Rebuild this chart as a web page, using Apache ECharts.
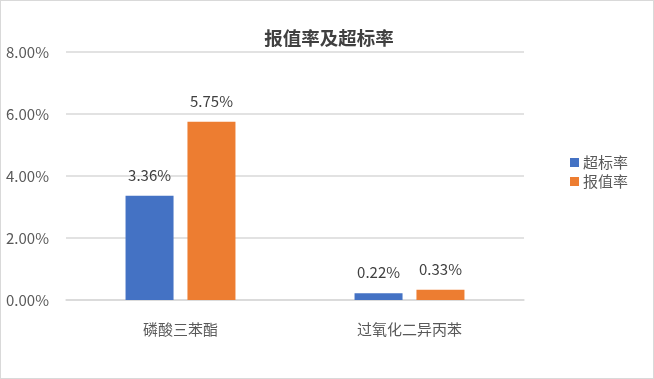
<!DOCTYPE html>
<html><head><meta charset="utf-8">
<script src="https://cdn.jsdelivr.net/npm/echarts@6/dist/echarts.min.js"></script>
<style>html,body{margin:0;padding:0;background:#fff;}#c{width:654px;height:379px;box-sizing:border-box;border:1px solid #d9d9d9;}</style>
</head><body><div id="c"></div>
<script>
const categories = ['磷酸三苯酯', '过氧化二异丙苯'];
const exceedRate = [3.36, 0.22];
const reportRate = [5.75, 0.33];
const seriesNames = ['超标率', '报值率'];
const titleText = '报值率及超标率';

const font = '"Noto Sans CJK SC", "Noto Sans", sans-serif';
const chart = echarts.init(document.getElementById('c'), null, {renderer: 'canvas'});
const lbl = {show: true, position: 'top', distance: 13, color: '#404040', fontSize: 15, fontFamily: font,
  formatter: p => p.value.toFixed(2) + '%'};
chart.setOption({
  animation: false,
  title: {text: titleText, left: 323, top: 23, textAlign: 'center',
    textStyle: {fontSize: 18.5, fontWeight: 'bold', color: '#404040', fontFamily: font}},
  legend: {orient: 'vertical', left: 564, top: 149, itemWidth: 9, itemHeight: 9, itemGap: 4,
    textStyle: {fontSize: 15, color: '#595959', fontFamily: font, padding: [0, 0, 0, -1]},
    data: seriesNames.map(n => ({name: n, icon: 'rect'}))},
  grid: {left: 65, right: 129, top: 51, bottom: 78, containLabel: false},
  xAxis: {type: 'category', data: categories,
    axisLine: {show: true, lineStyle: {color: '#d9d9d9', width: 1.5}},
    axisTick: {show: false},
    axisLabel: {fontSize: 15, color: '#595959', fontFamily: font, margin: 22}},
  yAxis: {type: 'value', min: 0, max: 8, interval: 2,
    axisLine: {show: false}, axisTick: {show: false},
    splitLine: {lineStyle: {color: '#d9d9d9', width: 1.5}},
    axisLabel: {fontSize: 15, color: '#595959', fontFamily: font, margin: 17,
      formatter: v => v.toFixed(2) + '%'}},
  series: [
    {name: seriesNames[0], type: 'bar', data: exceedRate, barWidth: 48, barGap: '29%',
      itemStyle: {color: '#4472C4'}, label: lbl},
    {name: seriesNames[1], type: 'bar', data: reportRate, barWidth: 48,
      itemStyle: {color: '#ED7D31'}, label: lbl}
  ]
});
</script></body></html>
